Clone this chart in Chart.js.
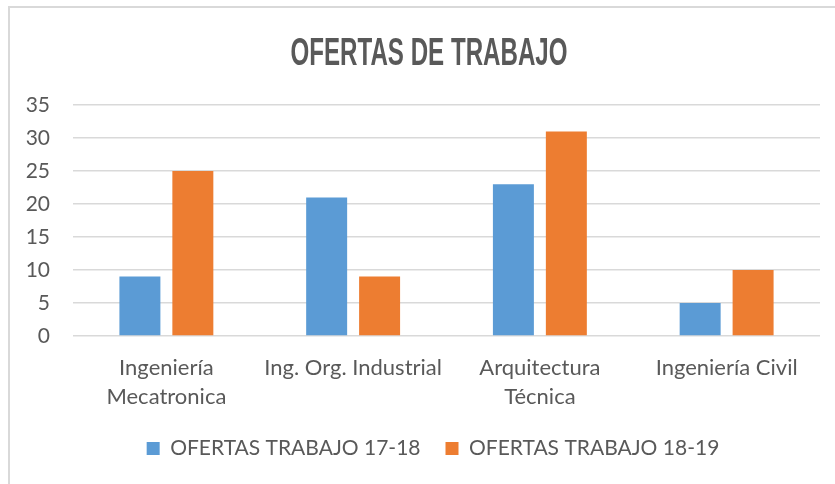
<!DOCTYPE html>
<html>
<head>
<meta charset="utf-8">
<script src="https://cdn.jsdelivr.net/npm/chart.js@4.4.1/dist/chart.umd.min.js"></script>
<style>
    body { margin: 0; background: #ffffff; }
    #marco { position: absolute; left: 8px; top: 6px; width: 900px; height: 500px; border-left: 2px solid #d9d9d9; border-top: 2px solid #d9d9d9; }
    #grafico { position: absolute; left: 0; top: 0; }
</style>
</head>
<body>
<div id="marco"></div>
<canvas id="grafico" width="835" height="484"></canvas>
<script>
var titulo = "OFERTAS DE TRABAJO";
var carreras = [["Ingeniería", "Mecatronica"], "Ing. Org. Industrial", ["Arquitectura", "Técnica"], "Ingeniería Civil"];
var nombresSeries = ["OFERTAS TRABAJO 17-18", "OFERTAS TRABAJO 18-19"];
var ofertas1718 = [9, 21, 23, 5];
var ofertas1819 = [25, 9, 31, 10];
var ejeMin = 0;
var ejeMax = 35;
var ejePaso = 5;

var gris = "#595959";

// titulo estrecho tipo Agency FB, comprimido a mano
var tituloEstrecho = {
    id: "tituloEstrecho",
    afterDraw: function(chart) {
        var ctx = chart.ctx;
        ctx.save();
        ctx.font = "bold 38px 'Liberation Sans Narrow', 'Liberation Sans', sans-serif";
        ctx.fillStyle = gris;
        ctx.textAlign = "center";
        ctx.textBaseline = "alphabetic";
        ctx.translate(429, 65);
        ctx.scale(0.635, 1);
        ctx.fillText(titulo, 0, 0);
        ctx.restore();
    }
};

// la leyenda de excel queda centrada un poco a la derecha
var moverLeyenda = {
    id: "moverLeyenda",
    afterLayout: function(chart) {
        chart.legend.left += 23;
        chart.legend.right += 23;
    }
};

var ctx = document.getElementById("grafico").getContext("2d");

new Chart(ctx, {
    type: "bar",
    data: {
        labels: carreras,
        datasets: [{
            label: nombresSeries[0],
            data: ofertas1718,
            backgroundColor: "#5B9BD5",
            borderWidth: 0,
            categoryPercentage: 0.567,
            barPercentage: 0.774
        }, {
            label: nombresSeries[1],
            data: ofertas1819,
            backgroundColor: "#ED7D31",
            borderWidth: 0,
            categoryPercentage: 0.567,
            barPercentage: 0.774
        }]
    },
    options: {
        responsive: false,
        animation: false,
        layout: {
            padding: { top: 105, left: 0, right: 15, bottom: 15 }
        },
        plugins: {
            title: { display: false },
            tooltip: { enabled: false },
            legend: {
                display: true,
                position: "bottom",
                labels: {
                    boxWidth: 13,
                    boxHeight: 13,
                    padding: 25,
                    color: gris,
                    font: { family: "Lato", size: 21 }
                }
            }
        },
        scales: {
            y: {
                min: ejeMin,
                max: ejeMax,
                afterFit: function(escala) {
                    escala.width = 73;
                },
                border: { display: false },
                grid: {
                    color: "#d9d9d9",
                    lineWidth: 1.5,
                    drawTicks: false
                },
                ticks: {
                    stepSize: ejePaso,
                    padding: 23,
                    color: gris,
                    font: { family: "Lato", size: 21 }
                }
            },
            x: {
                afterFit: function(escala) {
                    escala.height = 77;
                },
                border: { display: false },
                grid: { display: false, drawTicks: false },
                ticks: {
                    autoSkip: false,
                    maxRotation: 0,
                    padding: 17,
                    color: gris,
                    font: { family: "Lato", size: 22, lineHeight: 1.33 }
                }
            }
        }
    },
    plugins: [tituloEstrecho, moverLeyenda]
});
</script>
</body>
</html>
